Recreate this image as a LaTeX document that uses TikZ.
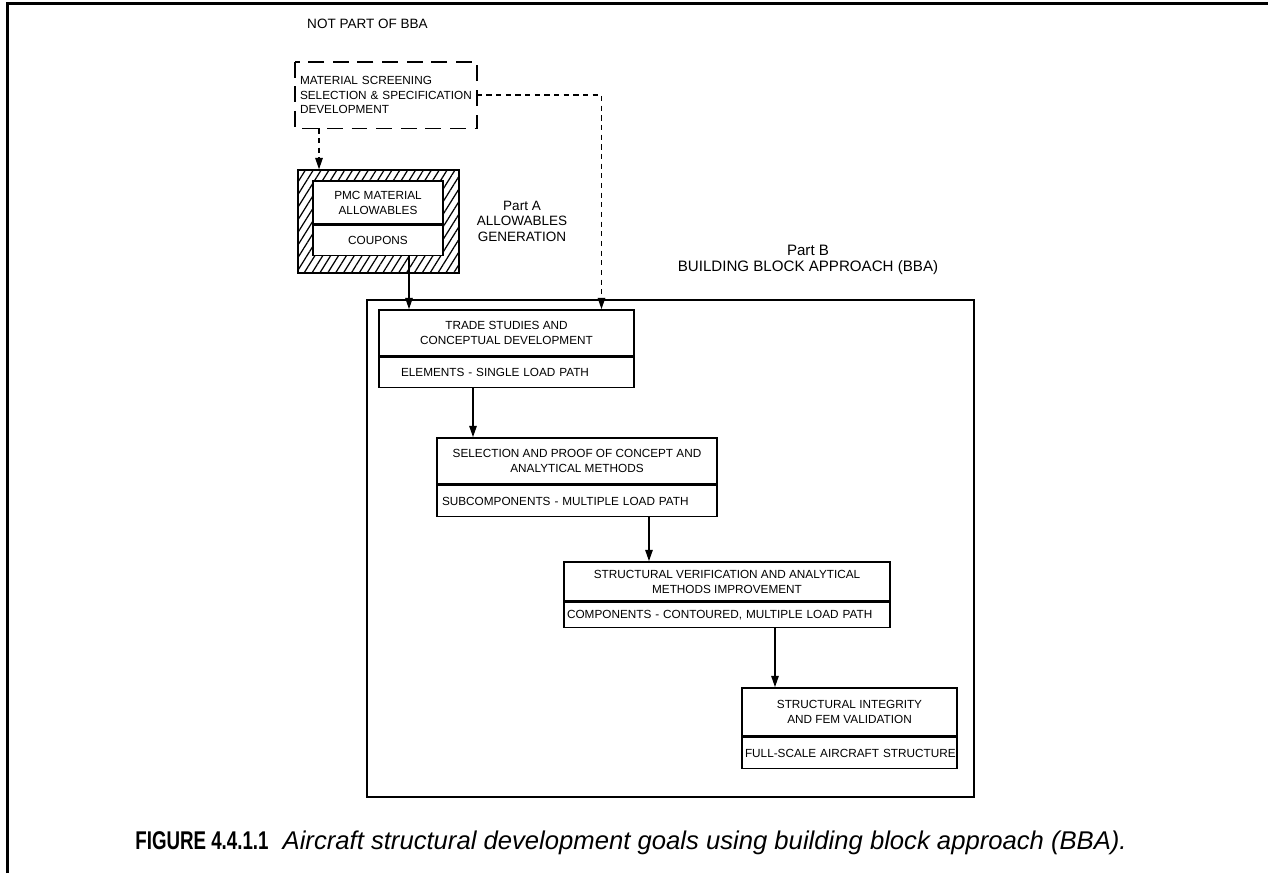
\documentclass[tikz,border=0pt]{standalone}
\usepackage{fontspec}
\usepackage{graphicx}
\setmainfont{Liberation Sans}
\usetikzlibrary{arrows.meta,patterns.meta}
\begin{document}
\begin{tikzpicture}[x=0.02cm,y=-0.02cm,
  box/.style={draw,line width=0.9pt,inner sep=0pt,font=\fontsize{6.7pt}{8.5pt}\selectfont,align=center,fill=white},
  lbox/.style={box,align=left},
  lab/.style={font=\fontsize{7.7pt}{8.8pt}\selectfont,align=center,inner sep=0pt},
  arr/.style={line width=1pt,-{Triangle[length=6.5pt,width=4.2pt]}},
  darr/.style={line width=0.9pt,dash pattern=on 3pt off 2.5pt},
  darrh/.style={darr,-{Triangle[length=6.5pt,width=4.2pt]}},
]
\useasboundingbox (0,0) rectangle (1268,873);
% page frame
\coordinate (fb) at (7.5,873);
\coordinate (fc) at (7.5,3.5);
\coordinate (fr) at (1268,3.5);
\draw[line width=1.7pt] (fb) -- (fc) -- (fr);

% Part B outer box
\node[draw,line width=0.9pt,minimum width=12.14cm,minimum height=9.94cm,inner sep=0pt] (partB) at (670.5,548.5) {};

% not part of BBA
\node[lab] (notpart) at (367.5,24) {NOT PART OF BBA};
\node[lbox,draw=none,fill=none,text width=3.44cm,inner xsep=0.08cm,minimum height=1.30cm,font=\fontsize{6.7pt}{8.4pt}\selectfont] (mat) at (386,95) {MATERIAL SCREENING\\\mbox{SELECTION \& SPECIFICATION}\\DEVELOPMENT};
\draw[line width=0.9pt,dash pattern=on 9pt off 5pt] (mat.north west) rectangle (mat.south east);

% allowables (hatched)
\node[draw,line width=0.9pt,minimum width=3.22cm,minimum height=2.06cm,inner sep=0pt,
      pattern={Lines[angle=58,distance=3.8pt,line width=0.7pt]}] (frame) at (378.5,221.5) {};
\node[box,minimum width=2.60cm,minimum height=0.86cm] (allowt) at (378,202.5) {PMC MATERIAL\\ALLOWABLES};
\node[box,minimum width=2.60cm,minimum height=0.60cm,anchor=north] (allowb) at (allowt.south) {COUPONS};

\node[lab] (partA) at (522,221) {Part A\\ALLOWABLES\\GENERATION};
\node[lab,font=\fontsize{8.6pt}{8.8pt}\selectfont] (partBl) at (808,260) {Part B\\BUILDING BLOCK APPROACH (BBA)};

% building blocks
\node[box,minimum width=5.10cm,minimum height=0.92cm] (tradet) at (506.5,333) {TRADE STUDIES AND\\CONCEPTUAL DEVELOPMENT};
\node[lbox,text width=4.22cm,inner xsep=0.44cm,minimum height=0.60cm,anchor=north] (tradeb) at (tradet.south) {ELEMENTS - SINGLE LOAD PATH};

\node[box,minimum width=5.60cm,minimum height=0.92cm] (selt) at (577,461) {SELECTION AND PROOF OF CONCEPT AND\\ANALYTICAL METHODS};
\node[lbox,text width=5.40cm,inner xsep=0.10cm,minimum height=0.62cm,anchor=north] (selb) at (selt.south) {SUBCOMPONENTS - MULTIPLE LOAD PATH};

\node[box,minimum width=6.52cm,minimum height=0.78cm] (strt) at (727,581.5) {STRUCTURAL VERIFICATION AND ANALYTICAL\\METHODS IMPROVEMENT};
\node[lbox,text width=6.40cm,inner xsep=0.06cm,minimum height=0.50cm,anchor=north] (strb) at (strt.south) {COMPONENTS - CONTOURED, MULTIPLE LOAD PATH};

\node[box,minimum width=4.30cm,minimum height=0.96cm] (intt) at (849.5,712) {STRUCTURAL INTEGRITY\\AND FEM VALIDATION};
\node[lbox,text width=4.18cm,inner xsep=0.06cm,minimum height=0.62cm,anchor=north] (intb) at (intt.south) {\mbox{FULL-SCALE AIRCRAFT STRUCTURE}};

% connectors
\draw[darrh] ([xshift=-1.34cm]mat.south) coordinate (m1) -- (m1 |- frame.north);
\draw[darrh] (mat.east) -| ([xshift=1.90cm]tradet.north);
\draw[arr] ([xshift=0.62cm]allowb.south) coordinate (a1) -- (a1 |- tradet.north);
\draw[arr] ([xshift=-0.67cm]tradeb.south) coordinate (t1) -- (t1 |- selt.north);
\draw[arr] ([xshift=1.44cm]selb.south) coordinate (s1) -- (s1 |- strt.north);
\draw[arr] ([xshift=0.96cm]strb.south) coordinate (r1) -- (r1 |- intt.north);

% caption
\node[anchor=west,inner sep=0pt,font=\fontsize{14.6pt}{16pt}\selectfont] (cap) at (135,843) {\scalebox{0.73}[1]{\textbf{FIGURE 4.4.1.1}}\hspace{0.55em}\textit{Aircraft structural development goals using building block approach (BBA).}};
\end{tikzpicture}
\end{document}
